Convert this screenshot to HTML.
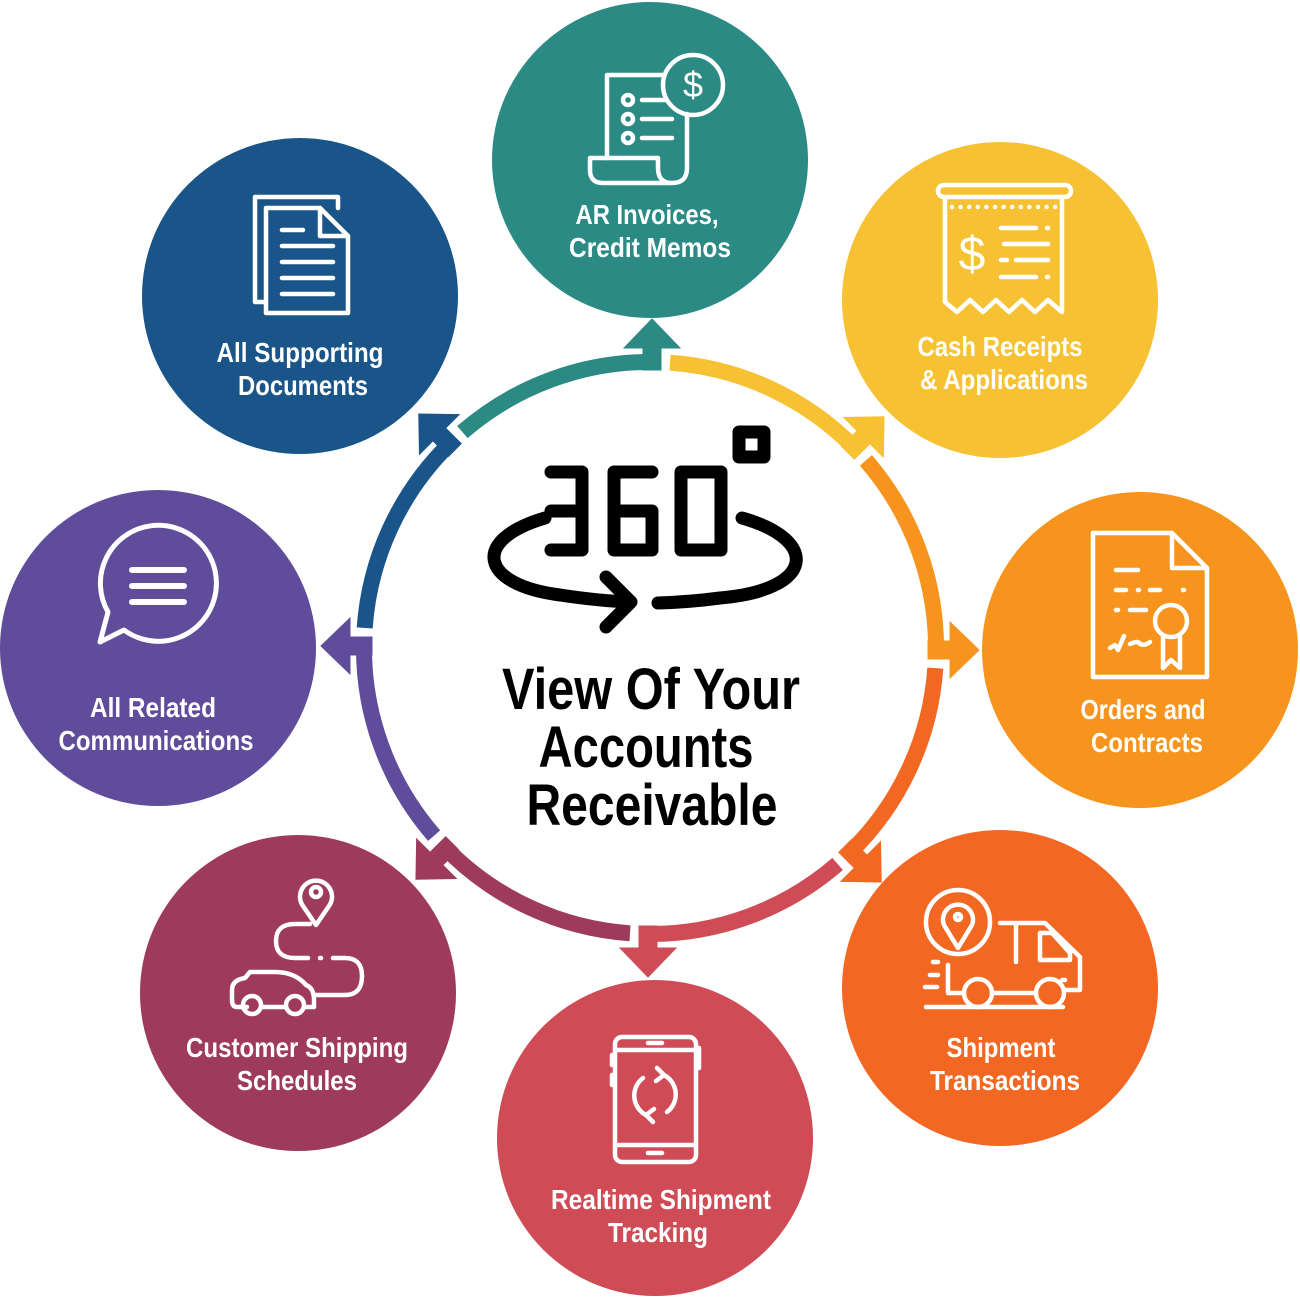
<!DOCTYPE html>
<html><head><meta charset="utf-8"><style>
html,body{margin:0;padding:0;background:#fff;}
svg{display:block}
.t{font-family:"Liberation Sans Narrow","Liberation Sans",sans-serif;font-weight:bold;fill:#fff;font-size:28px;text-anchor:middle}
.c{font-family:"Liberation Sans Narrow","Liberation Sans",sans-serif;font-weight:bold;fill:#000;font-size:58px;text-anchor:middle}
.w{fill:none;stroke:#fff;stroke-width:4.5;stroke-linecap:round;stroke-linejoin:round}
</style></head><body>
<svg width="1300" height="1300" viewBox="0 0 1300 1300" xmlns="http://www.w3.org/2000/svg">
<defs>
<g id="seg">
  <path d="M -187.6 -215.9 A 286 286 0 0 1 4 -286" fill="none" stroke-width="16" stroke="inherit"/>
  <rect x="-7" y="-302" width="18" height="24"/>
  <polygon points="-26,-300 30,-300 2,-329"/>
</g>
</defs>
<g transform="translate(650,648)">
  <g transform="rotate(0)" fill="#2b8a84" stroke="#2b8a84"><use href="#seg"/></g>
  <g transform="rotate(45)" fill="#f6c233" stroke="#f6c233"><use href="#seg"/></g>
  <g transform="rotate(90)" fill="#f7941e" stroke="#f7941e"><use href="#seg"/></g>
  <g transform="rotate(135)" fill="#f26722" stroke="#f26722"><use href="#seg"/></g>
  <g transform="rotate(180)" fill="#cf4b56" stroke="#cf4b56"><use href="#seg"/></g>
  <g transform="rotate(225)" fill="#9e3a5c" stroke="#9e3a5c"><use href="#seg"/></g>
  <g transform="rotate(270)" fill="#5f4c9a" stroke="#5f4c9a"><use href="#seg"/></g>
  <g transform="rotate(315)" fill="#1a558a" stroke="#1a558a"><use href="#seg"/></g>
</g>

<circle cx="650" cy="160" r="158" fill="#2b8a84"/>
<circle cx="1000" cy="300" r="158" fill="#f6c233"/>
<circle cx="1140" cy="650" r="158" fill="#f7941e"/>
<circle cx="1000" cy="988" r="158" fill="#f26722"/>
<circle cx="655" cy="1138" r="158" fill="#cf4b56"/>
<circle cx="298" cy="993" r="158" fill="#9e3a5c"/>
<circle cx="158" cy="648" r="158" fill="#5f4c9a"/>
<circle cx="300" cy="296" r="158" fill="#1a558a"/>

<g lengthAdjust="spacingAndGlyphs">
<text class="t" x="647" y="224" textLength="143" lengthAdjust="spacingAndGlyphs">AR Invoices,</text>
<text class="t" x="650" y="257" textLength="162" lengthAdjust="spacingAndGlyphs">Credit Memos</text>
<text class="t" x="1000" y="356" textLength="165" lengthAdjust="spacingAndGlyphs">Cash Receipts</text>
<text class="t" x="1004" y="389" textLength="168" lengthAdjust="spacingAndGlyphs">&amp; Applications</text>
<text class="t" x="1143" y="719" textLength="125" lengthAdjust="spacingAndGlyphs">Orders and</text>
<text class="t" x="1147" y="752" textLength="112" lengthAdjust="spacingAndGlyphs">Contracts</text>
<text class="t" x="1001" y="1057" textLength="109" lengthAdjust="spacingAndGlyphs">Shipment</text>
<text class="t" x="1005" y="1090" textLength="150" lengthAdjust="spacingAndGlyphs">Transactions</text>
<text class="t" x="661" y="1209" textLength="220" lengthAdjust="spacingAndGlyphs">Realtime Shipment</text>
<text class="t" x="658" y="1242" textLength="100" lengthAdjust="spacingAndGlyphs">Tracking</text>
<text class="t" x="297" y="1057" textLength="222" lengthAdjust="spacingAndGlyphs">Customer Shipping</text>
<text class="t" x="297" y="1090" textLength="120" lengthAdjust="spacingAndGlyphs">Schedules</text>
<text class="t" x="153" y="717" textLength="126" lengthAdjust="spacingAndGlyphs">All Related</text>
<text class="t" x="156" y="750" textLength="195" lengthAdjust="spacingAndGlyphs">Communications</text>
<text class="t" x="300" y="362" textLength="167" lengthAdjust="spacingAndGlyphs">All Supporting</text>
<text class="t" x="303" y="395" textLength="130" lengthAdjust="spacingAndGlyphs">Documents</text>

<text class="c" x="651" y="709" textLength="298" lengthAdjust="spacingAndGlyphs">View Of Your</text>
<text class="c" x="646" y="767" textLength="215" lengthAdjust="spacingAndGlyphs">Accounts</text>
<text class="c" x="652" y="825" textLength="251" lengthAdjust="spacingAndGlyphs">Receivable</text>
</g>

<g fill="none" stroke="#000" stroke-width="13" stroke-linecap="round" stroke-linejoin="round">
  <path d="M551 472 H582 V550 H551 M551 511 H582"/>
  <path d="M652 472 H614 V550 H652 V511 H614"/>
  <rect x="681" y="472" width="40" height="78"/>
  <rect x="739" y="432" width="25" height="25"/>
  <path d="M545 518 C 470 540, 480 585, 560 595 Q 600 601 630 602"/>
  <path d="M606 577 L631 602 L606 627"/>
  <path d="M742 518 C 820 540, 815 590, 720 598 Q 690 602 658 603"/>
</g>

<g class="w">
  <path d="M607 158 V75 H663"/>
  <circle cx="693" cy="85" r="30"/>
  <path d="M687 114 V168 Q687 183 672 183 Q658 183 658 168 V158 H590 V170 Q590 183 603 183 H672"/>
  <circle cx="628" cy="100" r="5"/><circle cx="628" cy="119" r="5"/><circle cx="628" cy="138" r="5"/>
  <path d="M642 100 H665 M642 119 H672 M642 138 H672"/>
</g>
<text x="693" y="97" font-family="Liberation Sans" font-size="36" fill="#fff" text-anchor="middle">$</text>

<g class="w">
  <rect x="938" y="185" width="133" height="12" rx="6"/>
  <path d="M945 197 V302 L957 312 L970 300 L983 312 L996 300 L1009 312 L1022 300 L1035 312 L1048 300 L1062 312 V197"/>
  <path d="M952 207 H1056" stroke-dasharray="0 8.6"/>
  <path d="M1001 228 H1036 M1047 228 H1048 M1004 244 H1048 M1001 260 H1007 M1016 260 H1048 M1001 277 H1036 M1047 277 H1048"/>
</g>
<text x="972" y="270" font-family="Liberation Sans" font-size="48" fill="#fff" text-anchor="middle">$</text>

<g class="w">
  <path d="M1093 533 H1172 L1207 568 V677 H1093 Z"/>
  <path d="M1172 533 V568 H1207"/>
  <path d="M1116 570 H1138 M1116 590 H1126 M1138 590 H1139 M1150 590 H1160 M1183 590 H1184 M1116 610 H1118 M1130 610 H1146"/>
  <circle cx="1171" cy="621" r="16"/>
  <path d="M1163 637 V668 L1171 660 L1180 668 V637"/>
  <path d="M1110 648 L1115 645 L1118 650 L1124 636 M1130 644 Q1138 640 1140 644 Q1145 646 1150 642"/>
</g>

<g class="w">
  <circle cx="958" cy="922" r="32"/>
  <path d="M958 948 L944 925 A15 15 0 1 1 972 925 Z"/>
  <circle cx="958" cy="917" r="3"/>
  <path d="M1000 923 H1045 L1080 957 V990 H1064 M1016 923 V962"/>
  <path d="M1040 933 H1052 L1070 953 V960 H1040 Z"/>
  <path d="M948 965 V993 H964 M992 993 H1036 M1062 980 H1065"/>
  <circle cx="978" cy="993" r="14"/><circle cx="1050" cy="993" r="14"/>
  <path d="M926 1007 H1063 M933 962 H938 M930 975 H938 M925 987 H937"/>
</g>

<g class="w">
  <rect x="615" y="1037" width="81" height="125" rx="7"/>
  <path d="M615 1050 H696 M615 1145 H696 M648 1043 H662 M648 1153 H662"/>
  <path d="M612 1055 V1065 M612 1075 V1085 M699 1048 V1068"/>
  <path d="M643 1078 A22 22 0 0 0 646 1115 M667 1112 A22 22 0 0 0 664 1075"/>
  <path d="M657 1068 L664 1075 L656 1081 M653 1122 L646 1115 L654 1109"/>
</g>

<g class="w">
  <path d="M316 925 L303 906 A16 16 0 1 1 329 906 Z"/>
  <circle cx="316" cy="892" r="5"/>
  <path d="M310 924 H295 Q276 924 276 941 Q276 958 295 958 H308 M333 958 H345 Q362 958 362 976 Q362 995 345 995 H316"/>
  <path d="M320 958 H321"/>
  <path d="M247 1007 H237 Q232 1007 232 1000 V990 Q232 980 245 978 L250 972 H275 Q295 972 306 985 Q314 988 314 1000 V1007 H304 M262 1007 H285"/>
  <circle cx="252" cy="1005" r="9"/><circle cx="295" cy="1005" r="9"/>
</g>

<g class="w">
  <path d="M124 630 A58 58 0 1 0 108 612 L100 642 Z" stroke-width="5"/>
  <path d="M132 570 H184 M132 586 H184 M132 602 H184" stroke-width="6"/>
</g>

<g class="w">
  <path d="M266 302 H255 V197 H338 V208"/>
  <path d="M266 208 H320 L348 236 V313 H266 Z"/>
  <path d="M320 208 V236 H348"/>
  <path d="M282 230 H303 M282 246 H333 M282 262 H333 M282 278 H333 M282 294 H333"/>
</g>
</svg>
</body></html>
